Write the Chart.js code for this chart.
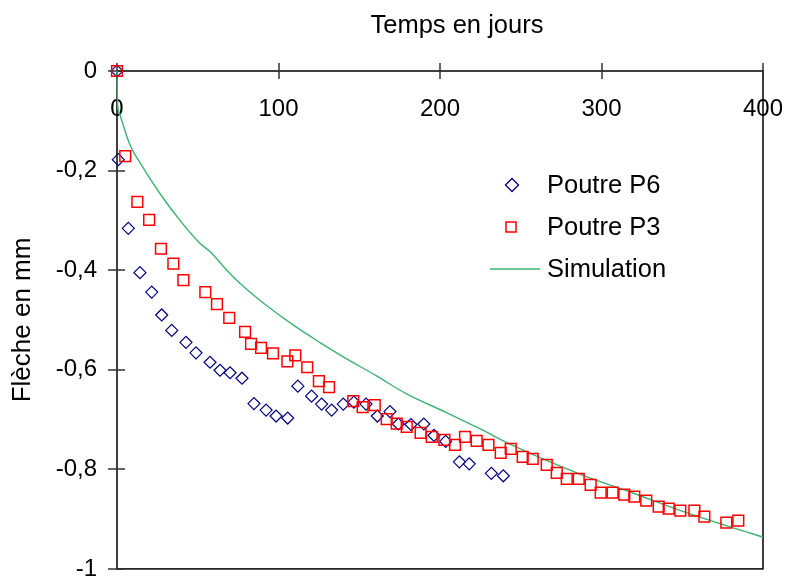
<!DOCTYPE html>
<html>
<head>
<meta charset="utf-8">
<script src="https://cdn.jsdelivr.net/npm/chart.js@4/dist/chart.umd.min.js"></script>
<style>
  html, body { margin: 0; padding: 0; background: #fff; }
  #wrap { width: 787px; height: 578px; }
</style>
</head>
<body>
<div id="wrap"><canvas id="c" width="787" height="578"></canvas></div>
<script>
// ---- Data ----
const p6Days = [0, 0.8, 7, 14.2, 21.5, 27.7, 33.9, 42.7, 48.9, 57.6, 63.8, 70, 77.4, 84.8, 92.3, 98.5, 105.7, 112, 120.5, 126.7, 132.9, 140.1, 146.7, 154.2, 161.2, 169, 174.2, 182, 190, 196.3, 203.5, 212, 218.1, 231.8, 239.2];
const p6Defl = [0, -0.178, -0.316, -0.405, -0.444, -0.490, -0.521, -0.545, -0.566, -0.585, -0.601, -0.606, -0.617, -0.668, -0.681, -0.693, -0.697, -0.633, -0.653, -0.669, -0.681, -0.669, -0.665, -0.669, -0.693, -0.684, -0.709, -0.710, -0.709, -0.732, -0.744, -0.785, -0.789, -0.808, -0.813];

const p3Days = [0, 5.1, 12.6, 19.9, 27.2, 34.9, 41.1, 54.7, 61.9, 69.5, 79.3, 83, 89.2, 96.6, 105.5, 110.4, 117.8, 125, 131.3, 146.3, 152.1, 159.6, 167, 173.2, 179.4, 188, 194.9, 202.7, 209.3, 215.5, 222.7, 230, 237.6, 243.8, 251.2, 257.4, 266.1, 272.3, 278.5, 285.9, 293.3, 299.5, 306.9, 314.1, 320.3, 327.7, 335.4, 341.6, 348.8, 357.5, 363.7, 377.3, 384.7];
const p3Defl = [0, -0.171, -0.263, -0.299, -0.357, -0.387, -0.420, -0.444, -0.468, -0.496, -0.524, -0.548, -0.556, -0.567, -0.583, -0.571, -0.595, -0.623, -0.635, -0.663, -0.675, -0.671, -0.699, -0.708, -0.715, -0.727, -0.735, -0.741, -0.751, -0.735, -0.743, -0.751, -0.767, -0.759, -0.775, -0.779, -0.791, -0.807, -0.819, -0.819, -0.831, -0.847, -0.847, -0.851, -0.855, -0.863, -0.875, -0.879, -0.883, -0.883, -0.895, -0.907, -0.903];

const simDays = [0, 0.4, 1.4, 3, 8, 15, 27, 39, 51, 58, 68, 78, 91, 109, 126, 138, 161, 179, 204, 225, 245, 287, 318, 349, 380, 400];
const simDefl = [0, -0.068, -0.084, -0.100, -0.148, -0.188, -0.248, -0.300, -0.345, -0.364, -0.400, -0.432, -0.467, -0.510, -0.546, -0.570, -0.613, -0.648, -0.686, -0.719, -0.752, -0.810, -0.846, -0.883, -0.916, -0.936];

const xTickValues = [0, 100, 200, 300, 400];
const yTickValues = [0, -0.2, -0.4, -0.6, -0.8, -1];

const seriesNames = ['Poutre P6', 'Poutre P3', 'Simulation'];
const xTitle = 'Temps en jours';
const yTitle = 'Flèche en mm';

// ---- Build ----
const toPts = (xs, ys) => xs.map((v, i) => ({ x: v, y: ys[i] }));
const FONT = "'Liberation Sans', Arial, sans-serif";
const NAVY = '#00007f';
const RED = '#ff0000';
const GREEN = '#3cb371';

const fmt = v => {
  const r = Math.round(v * 10) / 10;
  if (r === 0) return '0';
  return String(r).replace('.', ',');
};

const framePlugin = {
  id: 'frame',
  beforeDatasetsDraw(chart) {
    const { ctx, chartArea: a, scales: { x, y } } = chart;
    ctx.save();
    ctx.strokeStyle = '#000';
    ctx.lineWidth = 1.5;
    ctx.strokeRect(a.left, a.top, a.right - a.left, a.bottom - a.top);
    ctx.strokeStyle = '#333';
    ctx.lineWidth = 1.5;
    ctx.beginPath();
    x.ticks.forEach((t, i) => {
      const px = Math.round(x.getPixelForTick(i));
      ctx.moveTo(px, a.top - 8);
      ctx.lineTo(px, a.top + 8);
    });
    y.ticks.forEach((t, i) => {
      const py = Math.round(y.getPixelForTick(i));
      ctx.moveTo(a.left - 9, py);
      ctx.lineTo(a.left + 8, py);
    });
    ctx.stroke();
    ctx.restore();
  },
  afterDraw(chart) {
    const { ctx, scales: { x } } = chart;
    ctx.save();
    ctx.fillStyle = '#000';
    ctx.font = '25.5px ' + FONT;
    ctx.textAlign = 'center';
    ctx.textBaseline = 'alphabetic';
    ctx.fillText(xTitle, x.getPixelForValue(210.5), 33);

    // legend
    const lx = 512, textX = 547;
    const rows = [185, 227, 269];
    ctx.textAlign = 'left';
    ctx.font = '25.5px ' + FONT;
    // diamond
    ctx.strokeStyle = NAVY; ctx.lineWidth = 1.3;
    ctx.beginPath();
    ctx.moveTo(lx - 6.5, rows[0]); ctx.lineTo(lx, rows[0] - 6.5);
    ctx.lineTo(lx + 6.5, rows[0]); ctx.lineTo(lx, rows[0] + 6.5); ctx.closePath();
    ctx.stroke();
    // square
    ctx.strokeStyle = RED; ctx.lineWidth = 1.5;
    ctx.strokeRect(lx - 6, rows[1] - 5, 10, 10);
    // line
    ctx.strokeStyle = GREEN; ctx.lineWidth = 1.5;
    ctx.beginPath(); ctx.moveTo(490, rows[2]); ctx.lineTo(540, rows[2]); ctx.stroke();
    ctx.fillStyle = '#000';
    seriesNames.forEach((n, i) => ctx.fillText(n, textX, rows[i] + 7.5));
    ctx.restore();
  }
};

const zeroPad = s => { s.paddingLeft = 0; s.paddingRight = 0; s.paddingTop = 0; s.paddingBottom = 0; };

new Chart(document.getElementById('c'), {
  type: 'scatter',
  data: {
    datasets: [
      {
        label: seriesNames[0],
        data: toPts(p6Days, p6Defl),
        pointStyle: 'rectRot',
        pointRadius: 6,
        pointHoverRadius: 6,
        borderColor: NAVY,
        backgroundColor: 'rgba(0,0,0,0)',
        borderWidth: 1.2,
        clip: false,
        order: 2
      },
      {
        label: seriesNames[1],
        data: toPts(p3Days, p3Defl),
        pointStyle: 'rect',
        pointRadius: 7.6,
        pointHoverRadius: 7.6,
        borderColor: RED,
        backgroundColor: 'rgba(0,0,0,0)',
        borderWidth: 1.5,
        clip: false,
        order: 1
      },
      {
        label: seriesNames[2],
        data: toPts(simDays, simDefl),
        showLine: true,
        pointRadius: 0,
        pointHoverRadius: 0,
        borderColor: GREEN,
        backgroundColor: GREEN,
        borderWidth: 1.4,
        cubicInterpolationMode: 'monotone',
        clip: false,
        order: 3
      }
    ]
  },
  options: {
    responsive: false,
    animation: false,
    events: [],
    layout: { padding: { left: 0, top: 0, right: 24, bottom: 6 } },
    plugins: { legend: { display: false }, tooltip: { enabled: false }, title: { display: false } },
    scales: {
      x: {
        type: 'linear',
        position: 'top',
        min: 0, max: 400,
        afterBuildTicks: s => { s.ticks = xTickValues.map(v => ({ value: v })); },
        afterFit: s => { s.height = 71; zeroPad(s); },
        grid: { display: false, drawTicks: false },
        border: { display: false },
        ticks: {
          mirror: true,
          padding: 24,
          color: '#000',
          font: { family: FONT, size: 24 },
          maxRotation: 0,
          autoSkip: false,
          callback: v => String(v)
        },
        title: { display: false }
      },
      y: {
        type: 'linear',
        position: 'left',
        min: -1, max: 0,
        afterBuildTicks: s => { s.ticks = yTickValues.map(v => ({ value: v })); },
        afterFit: s => { s.width = 117; zeroPad(s); },
        grid: { display: false, drawTicks: false },
        border: { display: false },
        ticks: {
          padding: 20,
          color: '#000',
          font: { family: FONT, size: 24 },
          autoSkip: false,
          callback: v => fmt(v)
        },
        title: {
          display: true,
          text: yTitle,
          color: '#000',
          font: { family: FONT, size: 26 },
          padding: { top: 7, bottom: 0 }
        }
      }
    }
  },
  plugins: [framePlugin]
});
</script>
</body>
</html>
